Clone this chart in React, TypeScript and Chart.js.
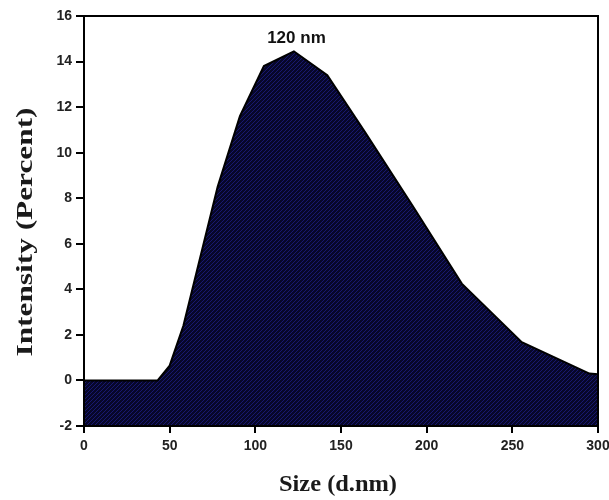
import React, { useEffect, useRef } from "react";
import { Chart, registerables } from "chart.js";

Chart.register(...registerables);

const sizes = [0, 43, 50, 58, 78, 91, 105, 122.5, 142, 164, 191.5, 220.5, 255.5, 295, 300];
const intensity = [0, 0, 0.65, 2.4, 8.5, 11.6, 13.8, 14.45, 13.4, 10.9, 7.7, 4.25, 1.68, 0.3, 0.27];
const peakLabel = "120 nm";
const peakX = 124;
const peakY = 15.0;
const xTitle = "Size (d.nm)";
const yTitle = "Intensity (Percent)";

function makePattern(): CanvasPattern | string {
  const c = document.createElement("canvas");
  c.width = 4;
  c.height = 4;
  const g = c.getContext("2d");
  if (!g) return "#0d0d45";
  g.fillStyle = "#07072a";
  g.fillRect(0, 0, 4, 4);
  g.fillStyle = "#18186e";
  for (let i = 0; i < 4; i++) {
    g.fillRect(i, 3 - i, 1, 1);
  }
  const p = g.createPattern(c, "repeat");
  return p || "#0d0d45";
}

function drawStretched(ctx: CanvasRenderingContext2D, text: string, targetLen: number) {
  const w = ctx.measureText(text).width;
  const s = targetLen / w;
  ctx.scale(s, 1);
  ctx.fillText(text, 0, 0);
}

const framePlugin = {
  id: "frame",
  afterDatasetsDraw(chart: any) {
    const { ctx, chartArea } = chart;
    ctx.save();
    ctx.strokeStyle = "#000";
    ctx.lineWidth = 2;
    ctx.strokeRect(chartArea.left, chartArea.top, chartArea.right - chartArea.left, chartArea.bottom - chartArea.top);
    const x = chart.scales.x.getPixelForValue(peakX);
    const y = chart.scales.y.getPixelForValue(peakY);
    ctx.fillStyle = "#111";
    ctx.font = "bold 17px 'Liberation Sans', Arial, sans-serif";
    ctx.textAlign = "center";
    ctx.textBaseline = "middle";
    ctx.fillText(peakLabel, x, y);
    ctx.restore();
  },
  afterDraw(chart: any) {
    const { ctx } = chart;
    ctx.save();
    ctx.fillStyle = "#1a1a1a";
    ctx.font = "bold 24px 'Liberation Serif', 'Times New Roman', serif";
    ctx.textAlign = "center";
    ctx.textBaseline = "middle";
    ctx.save();
    ctx.translate(338, 485);
    drawStretched(ctx, xTitle, 118);
    ctx.restore();
    ctx.save();
    ctx.translate(26, 232);
    ctx.rotate(-Math.PI / 2);
    drawStretched(ctx, yTitle, 249);
    ctx.restore();
    ctx.restore();
  },
};

export default function App() {
  const ref = useRef<HTMLCanvasElement>(null);
  useEffect(() => {
    const chart = new Chart(ref.current!, {
      type: "line",
      data: {
        datasets: [
          {
            data: sizes.map((s, i) => ({ x: s, y: intensity[i] })),
            borderColor: "#000",
            borderWidth: 2,
            backgroundColor: makePattern(),
            fill: "start",
            pointRadius: 0,
            tension: 0,
          },
        ],
      },
      options: {
        animation: false,
        responsive: false,
        layout: { padding: { top: 16, right: 11, left: 0, bottom: 0 } },
        plugins: { legend: { display: false }, tooltip: { enabled: false } },
        scales: {
          x: {
            type: "linear",
            min: 0,
            max: 300,
            afterFit: (s: any) => {
              s.height = 74;
              s.paddingRight = 0;
              s.paddingLeft = 0;
            },
            ticks: {
              stepSize: 50,
              color: "#222",
              padding: 5,
              font: { family: "'Liberation Sans', Arial, sans-serif", weight: "bold", size: 14 },
            },
            grid: { drawOnChartArea: false, drawTicks: true, tickLength: 7, color: "#000", lineWidth: 2 },
            border: { display: true, color: "#000", width: 2 },
          },
          y: {
            min: -2,
            max: 16,
            afterFit: (s: any) => {
              s.width = 84;
              s.paddingTop = 0;
              s.paddingBottom = 0;
            },
            ticks: {
              stepSize: 2,
              color: "#222",
              padding: 4,
              font: { family: "'Liberation Sans', Arial, sans-serif", weight: "bold", size: 14 },
            },
            grid: { drawOnChartArea: false, drawTicks: true, tickLength: 8, color: "#000", lineWidth: 2 },
            border: { display: true, color: "#000", width: 2 },
          },
        },
      },
      plugins: [framePlugin],
    } as any);
    return () => chart.destroy();
  }, []);
  return (
    <div style={{ position: "absolute", left: 0, top: 0, width: 609, height: 500, background: "#fff" }}>
      <canvas ref={ref} width={609} height={500} style={{ width: 609, height: 500 }} />
    </div>
  );
}
